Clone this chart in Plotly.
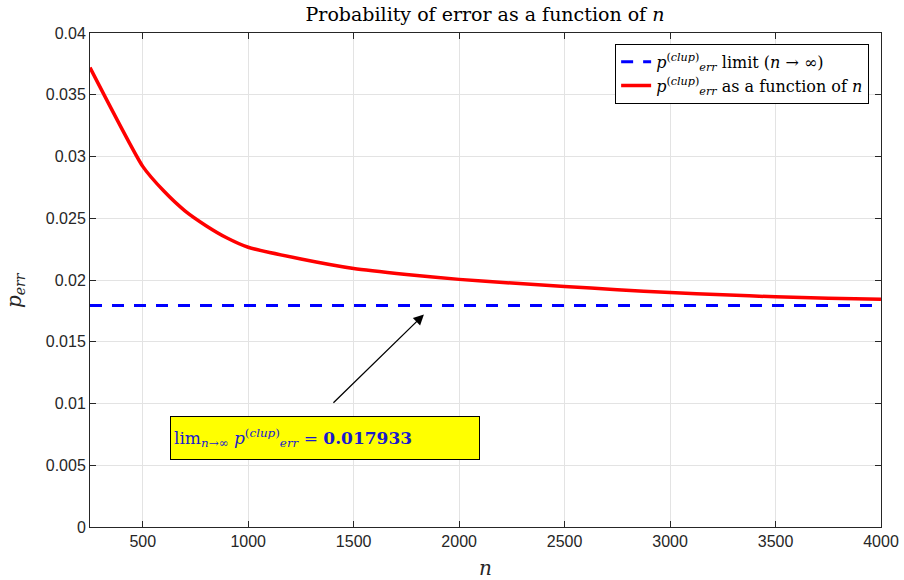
import plotly.graph_objects as go

n_vals = [250, 500, 600, 700, 800, 900, 1000, 1250, 1500, 1750, 2000, 2250, 2500, 2750, 3000, 3250, 3500, 3750, 4000]
p_err = [0.0372, 0.0292, 0.0272, 0.0256, 0.0244, 0.0234, 0.02265, 0.0217, 0.02093, 0.02045, 0.02005, 0.01975, 0.01948, 0.01922, 0.01898, 0.01880, 0.01864, 0.01853, 0.01845]
p_limit = 0.017933
x_range = [250, 4000]
y_ticks = [0, 0.005, 0.01, 0.015, 0.02, 0.025, 0.03, 0.035, 0.04]
x_ticks = [500, 1000, 1500, 2000, 2500, 3000, 3500, 4000]

serif = "DejaVu Serif, Liberation Serif, serif"
sans = "Liberation Sans, Arial, sans-serif"
pname = "<i>p</i><sup>(<i>clup</i>)</sup><sub><i>err</i></sub>"

fig = go.Figure()
fig.add_trace(go.Scatter(
    x=x_range, y=[p_limit, p_limit], mode="lines",
    line=dict(color="#0000ff", width=3, dash="12px,10px"),
    name=pname + " limit (<i>n</i> → ∞)"))
fig.add_trace(go.Scatter(
    x=n_vals, y=p_err, mode="lines",
    line=dict(color="#ff0000", width=3.5, shape="spline", smoothing=0.5),
    name=pname + " as a function of <i>n</i>"))

axis_common = dict(showline=True, linecolor="#262626", linewidth=1, mirror="ticks",
                   ticks="inside", ticklen=6, tickcolor="#262626",
                   showgrid=True, gridcolor="#e3e3e3", gridwidth=1, zeroline=False,
                   automargin=False,
                   tickfont=dict(family=sans, size=16, color="#262626"))

fig.update_layout(
    width=904, height=580,
    margin=dict(l=90, r=23, t=33, b=53),
    paper_bgcolor="white", plot_bgcolor="white",
    title=dict(text="Probability of error as a function of <i>n</i>",
               x=0.5365, xanchor="center", y=0.975, yanchor="middle",
               font=dict(family=serif, size=19, color="#000000")),
    xaxis=dict(range=x_range, tickvals=x_ticks, **axis_common),
    yaxis=dict(range=[0, 0.04], tickvals=y_ticks, ticktext=[str(v) for v in y_ticks], **axis_common),
    legend=dict(x=0.985, y=0.978, xanchor="right", yanchor="top",
                bgcolor="white", bordercolor="#000000", borderwidth=1,
                font=dict(family=serif, size=16, color="#000000"),
                tracegroupgap=0),
    showlegend=True,
)

fig.add_annotation(
    x=0.5, y=-0.084, xref="paper", yref="paper", xanchor="center", yanchor="middle",
    text="<i>n</i>", showarrow=False,
    font=dict(family=serif, size=20, color="#262626"))
fig.add_annotation(
    x=-0.094, y=0.479, xref="paper", yref="paper", xanchor="center", yanchor="middle",
    text="<i>p<sub>err</sub></i>", showarrow=False, textangle=-90,
    font=dict(family=serif, size=20, color="#262626"))

fig.add_annotation(
    x=1833, y=0.01721, xref="x", yref="y",
    ax=1397, ay=0.00994, axref="x", ayref="y",
    text="", showarrow=True, arrowhead=2, arrowsize=1.6, arrowwidth=1.3, arrowcolor="#000000")

fig.add_annotation(
    x=1364, y=0.00719, xref="x", yref="y",
    text="lim<sub><i>n</i>→∞</sub> " + pname + " = <b>0.017933</b>",
    showarrow=False, align="left", width=302, height=36,
    bgcolor="#ffff00", bordercolor="#000000", borderwidth=1, borderpad=3,
    font=dict(family=serif, size=17, color="#1a1acc"))

fig.write_html("out.html")
